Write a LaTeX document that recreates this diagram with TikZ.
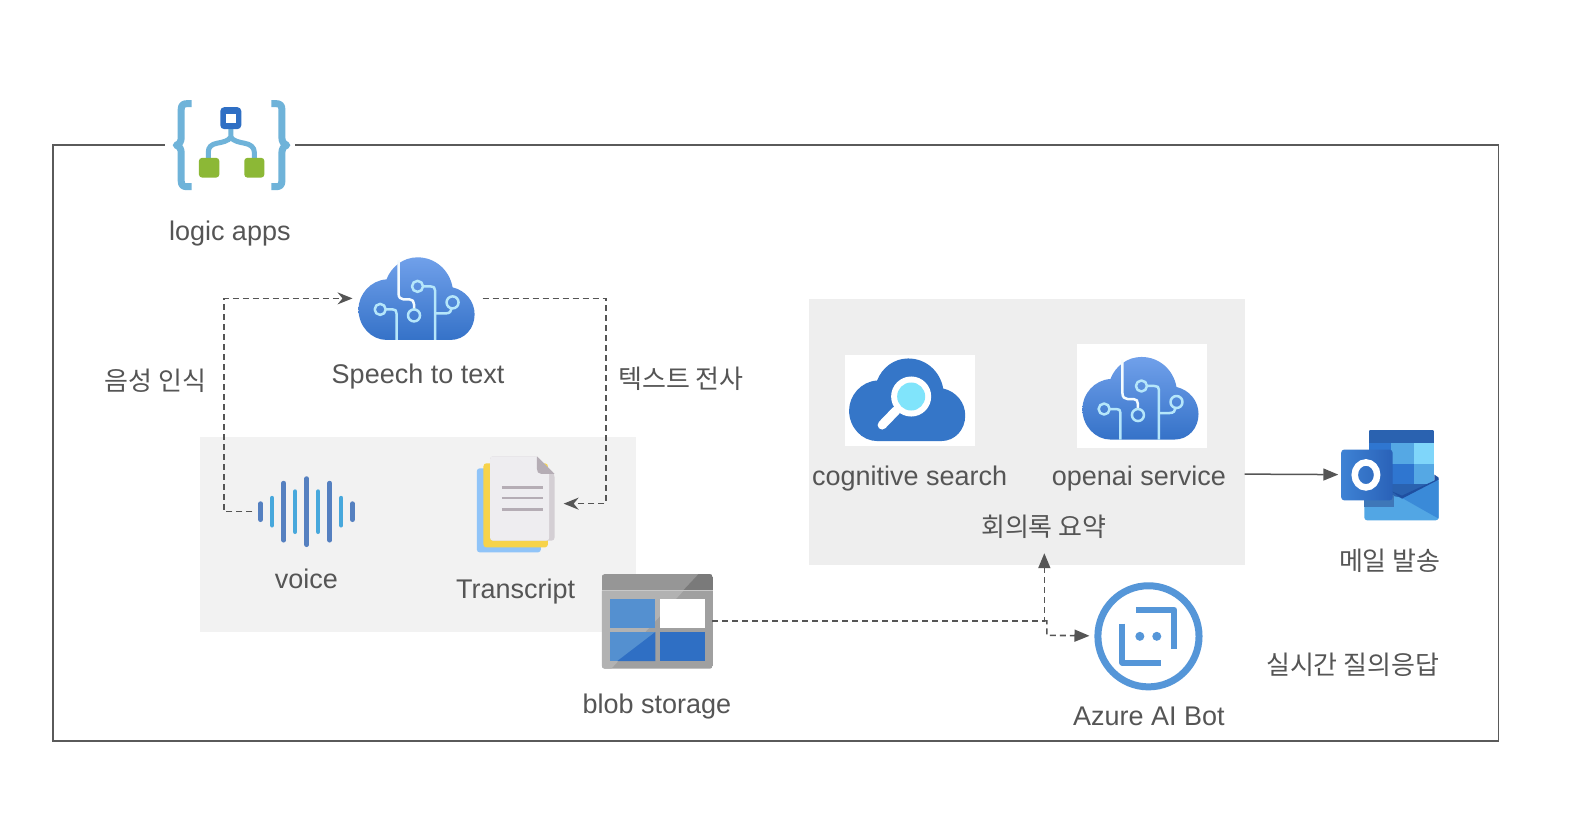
\documentclass[tikz,border=0pt]{standalone}
\usepackage{fontspec}
\setmainfont{Liberation Sans}
\newfontfamily\kr{Noto Sans CJK KR}
\usetikzlibrary{arrows.meta,calc}
\definecolor{ink}{HTML}{555555}
\definecolor{frameink}{HTML}{5A5A5A}
\definecolor{regionA}{HTML}{F2F2F2}
\definecolor{regionB}{HTML}{EEEEEE}
\definecolor{brace}{HTML}{6FB3D9}
\definecolor{azure}{HTML}{2F6FC4}
\definecolor{leaf}{HTML}{8CB836}
\definecolor{circuit}{HTML}{B5E6FA}
\definecolor{cloudtop}{HTML}{70A0EA}
\definecolor{cloudbot}{HTML}{3572C8}
\definecolor{barA}{HTML}{5580C0}
\definecolor{barB}{HTML}{47A8DC}
\definecolor{docline}{HTML}{B5ADB5}
\definecolor{botblue}{HTML}{5596D8}
\definecolor{sheetblue}{HTML}{90C4F8}
\definecolor{sheetyellow}{HTML}{F7D34A}
\definecolor{docedge}{HTML}{D4CFD4}
\definecolor{docface}{HTML}{EEEDF0}
\definecolor{blobbody}{HTML}{A0A0A0}
\definecolor{blobshine}{HTML}{B2B2B2}
\definecolor{blobhead}{HTML}{969696}
\definecolor{blobheaddark}{HTML}{7A7A7A}
\definecolor{blobcell}{HTML}{5490D0}
\definecolor{blobrule}{HTML}{C8C8C8}
\definecolor{searchblue}{HTML}{3576C8}
\definecolor{searchglass}{HTML}{80E4FB}
\definecolor{olA}{HTML}{2A62B0}
\definecolor{olB}{HTML}{2F76D0}
\definecolor{olC}{HTML}{55A8E4}
\definecolor{olD}{HTML}{7FD6FA}
\definecolor{olFlap}{HTML}{1F4FA0}
\definecolor{olEnv}{HTML}{52A6E4}
\definecolor{olEnvDark}{HTML}{3A8AD8}
\definecolor{olShadow}{HTML}{3E77B8}
\definecolor{olSqL}{HTML}{3E82D4}
\definecolor{olSqR}{HTML}{2A62B8}
\tikzset{
  lbl/.style={text=ink,font=\fontsize{27}{30}\selectfont,inner sep=0pt},
  krlbl/.style={text=ink,font=\kr\fontsize{26}{30}\selectfont,inner sep=0pt},
  iconbox/.style={inner sep=0pt,outer sep=0pt},
  regionbox/.style={inner sep=0pt,outer sep=0pt},
  dashlink/.style={draw=ink,line width=1.6pt,dash pattern=on 6pt off 4pt},
  tipopen/.style={-{Stealth[length=15pt,width=12pt,inset=5pt]}},
  tipfill/.style={-{Triangle[length=15pt,width=12pt]}},
  circ/.style={draw=circuit,line width=2.5pt,line join=round},
  bar/.style={line width=4.7pt,line cap=round},
  bracepath/.style={draw=brace,line width=7pt,line join=round},
  botline/.style={draw=botblue,line width=6pt,line join=round}
}
\newcommand{\cloudshape}{(28,82.5) -- (92,82.5) .. controls (106,82.5) and (116,71) .. (116,57) .. controls (116,44) and (107,33) .. (94,30) .. controls (91,13) and (77,0) .. (59,0) .. controls (45,0) and (33,9) .. (28,22) .. controls (12,23) and (0,37) .. (0,52) .. controls (0,69) and (13,82.5) .. (28,82.5) -- cycle}
\newcommand{\aicloud}[2]{%
  \begin{scope}[shift={(#1,#2)}]
    \shade[top color=cloudtop,bottom color=cloudbot] \cloudshape;
    \draw[circ,draw=white!85!circuit] (40,3) -- (40,36) .. controls (40,40) and (42,42) .. (45,42) -- (51,42) .. controls (54,42) and (55.5,44) .. (55.5,47) -- (55.5,52);
    \draw[circ] (55.5,58) circle (6);
    \draw[circ] (21.7,52) circle (5.5);
    \draw[circ] (27.2,52) -- (34,52) .. controls (37,52) and (38,53) .. (38,56) -- (38,82.5);
    \draw[circ] (59,29) circle (5.5);
    \draw[circ] (64.5,29) -- (72,29) .. controls (75,29) and (76.5,30) .. (76.5,33) -- (76.5,82.5);
    \draw[circ] (94,45) circle (6);
    \draw[circ] (76.5,56) -- (87,56) .. controls (91,56) and (93,54) .. (93,51);
  \end{scope}}
\begin{document}
\begin{tikzpicture}[x=1.0013pt,y=-1.0013pt]
\useasboundingbox (0,0) rectangle (1568,819);
\fill[white] (0,0) rectangle (1568,819);

% frame
\draw[frameink,line width=1.5pt] (53,144.7) rectangle (1496.7,740);

% regions
\node[regionbox,fill=regionA,minimum width=435.5,minimum height=195] (regionL) at (417.5,534.2) {};
\node[regionbox,fill=regionB,minimum width=435.5,minimum height=266] (regionR) at (1025.5,431) {};

% logic apps icon
\node[iconbox,fill=white,minimum width=130,minimum height=94] (logic) at (230,145) {};
\draw[bracepath] (191.5,103.5) -- (187,103.5) .. controls (183,103.5) and (181,105) .. (181,109) -- (181,137) .. controls (181,141) and (179.5,144) .. (176,145) .. controls (179.5,146) and (181,149) .. (181,153) -- (181,181) .. controls (181,185) and (183,186.5) .. (187,186.5) -- (191.5,186.5);
\draw[bracepath] (271,103.5) -- (275.5,103.5) .. controls (279.5,103.5) and (281.5,105) .. (281.5,109) -- (281.5,137) .. controls (281.5,141) and (283,144) .. (286.5,145) .. controls (283,146) and (281.5,149) .. (281.5,153) -- (281.5,181) .. controls (281.5,185) and (279.5,186.5) .. (275.5,186.5) -- (271,186.5);
\draw[brace,line width=5pt] (230.5,128) -- (230.5,137) .. controls (228,141) and (222,142) .. (217,143) .. controls (211,144) and (208,147) .. (208,152) -- (208,159);
\draw[brace,line width=5pt] (230.5,137) .. controls (233,141) and (239,142) .. (244,143) .. controls (250,144) and (254,147) .. (254,152) -- (254,159);
\fill[azure,rounded corners=4pt] (220,107) rectangle (241,129);
\fill[white] (226,114) rectangle (235.3,123.3);
\fill[leaf,rounded corners=3pt] (198.7,157.7) rectangle (219,177.3);
\fill[leaf,rounded corners=3pt] (244,157.7) rectangle (264,177.3);

% speech cloud
\node[iconbox,minimum width=130,minimum height=83] (speech) at (417,298) {};
\aicloud{358}{257}

% voice
\node[iconbox,minimum width=108,minimum height=71] (voice) at (306,511) {};
\draw[bar,barA] (260.3,503) -- (260.3,519);
\draw[bar,barB] (271.7,497.5) -- (271.7,524.5);
\draw[bar,barA] (283.3,482.5) -- (283.3,539.5);
\draw[bar,barB] (294.7,491) -- (294.7,531);
\draw[bar,barA] (306.3,478) -- (306.3,544);
\draw[bar,barB] (317.7,491) -- (317.7,531);
\draw[bar,barA] (329.3,482.5) -- (329.3,539.5);
\draw[bar,barB] (340.7,497.5) -- (340.7,524.5);
\draw[bar,barA] (352,503) -- (352,519);

% transcript
\node[iconbox,minimum width=95,minimum height=96] (transcript) at (515.5,503) {};
\fill[sheetblue,rounded corners=3pt] (476.2,467.7) rectangle (540.2,551.7);
\fill[sheetyellow,rounded corners=3pt] (482.8,462.7) rectangle (547.2,546.7);
\fill[docedge,rounded corners=3pt] (489.5,455.7) -- (536.2,455.7) -- (553.8,473.3) -- (553.8,540) -- (489.5,540) -- cycle;
\fill[docface,rounded corners=3pt] (489.5,455.7) -- (536.2,455.7) -- (548.5,470) -- (548.5,540) -- (489.5,540) -- cycle;
\fill[docline] (536.2,455.7) -- (553.8,473.3) -- (540.5,473.3) .. controls (537.5,473.3) and (536.2,471) .. (536.2,468) -- cycle;
\draw[docline,line width=2.3pt] (501.2,487) -- (542.2,487) (501.2,497.7) -- (542.2,497.7) (501.2,508.7) -- (542.2,508.7);

% blob storage
\node[iconbox,minimum width=111,minimum height=95] (blob) at (656,620) {};
\begin{scope}[shift={(-0.5,-0.5)}]
  \clip[rounded corners=3pt] (601.5,574) rectangle (712.5,668.3);
  \fill[blobbody] (601.5,574) rectangle (712.5,668.3);
  \fill[blobshine] (601.5,590.7) -- (683,590.7) -- (611,668.3) -- (601.5,668.3) -- cycle;
  \fill[blobhead] (601.5,574) rectangle (712.5,590);
  \fill[blobheaddark] (698,574) -- (712.5,574) -- (712.5,590) -- (683,590) -- cycle;
  \draw[blobrule,line width=1pt] (601.5,590.5) -- (712.5,590.5);
  \fill[blobcell] (610,598.3) rectangle (655,627.3);
  \fill[white] (659.5,598.3) rectangle (704.5,627.3);
  \fill[blobcell] (610,631.7) rectangle (655,660.7);
  \fill[azure] (655,631.7) -- (655,660.7) -- (617,660.7) -- cycle;
  \fill[azure] (659.5,631.7) rectangle (704.5,660.7);
\end{scope}

% cognitive search
\begin{scope}[shift={(-1,-1)}]
\node[iconbox,fill=white,minimum width=130,minimum height=91] (search) at (910,400.5) {};
\begin{scope}[shift={(849,359)}]
  \fill[searchblue] \cloudshape;
\end{scope}
\draw[white,line width=9pt,line cap=round] (896,411) -- (882,425.5);
\fill[white] (911,397) circle (20);
\fill[searchglass] (911,397) circle (14);
\end{scope}

% openai service
\node[iconbox,fill=white,minimum width=130,minimum height=104] (openai) at (1140.5,395.5) {};
\aicloud{1081}{356.5}

% outlook
\begin{scope}[shift={(-1.5,-1)}]
\node[iconbox,minimum width=100,minimum height=91] (outlook) at (1388,475) {};
\begin{scope}
  \clip[rounded corners=3pt] (1368.3,430) rectangle (1434,500);
  \fill[olA] (1368.3,430) rectangle (1434,443.3);
  \fill[olB] (1368.3,443.3) rectangle (1391,464.3);
  \fill[olC] (1391,443.3) rectangle (1413.3,464.3);
  \fill[olD] (1413.3,443.3) rectangle (1434,464.3);
  \fill[olA] (1368.3,464.3) rectangle (1391,484);
  \fill[olB] (1391,464.3) rectangle (1413.3,484);
  \fill[olC] (1413.3,464.3) rectangle (1434,484);
  \fill[olA] (1368.3,484) rectangle (1434,500);
\end{scope}
\fill[olEnv,rounded corners=3pt] (1364,490) -- (1401.7,498.3) -- (1438.3,479) -- (1438.3,520.7) -- (1364,520.7) -- cycle;
\fill[olEnvDark] (1401.7,498.3) -- (1438.3,479) -- (1438.3,519) -- cycle;
\fill[olFlap] (1434,475) -- (1438.3,478) -- (1438.3,480) -- (1401.7,499) -- (1391,491.5) -- (1401.7,496) -- (1434,481) -- cycle;
\fill[olShadow] (1364,495) rectangle (1394,507);
\shade[left color=olSqL,right color=olSqR,rounded corners=3pt] (1341,450) rectangle (1392.3,500.7);
\draw[white,line width=6.5pt] (1365.7,475.3) ellipse (11.2 and 12.5);
\end{scope}

% bot
\begin{scope}[shift={(-2,-0.5)}]
\node[iconbox,minimum width=118,minimum height=108] (bot) at (1149,635.5) {};
\draw[botblue,line width=7pt] (1149,636) circle (50.5);
\draw[botline] (1136.4,609.3) -- (1174.6,609.3) -- (1174.6,648.3);
\draw[botline] (1123,623.3) -- (1123,662.3) -- (1161.3,662.3);
\fill[botblue] (1140.4,636) circle (4.5);
\fill[botblue] (1157.3,636) circle (4.5);
\end{scope}

% labels
\node[lbl] (logiclabel) at (229.5,233) {logic apps};
\node[lbl] (speechlabel) at (417.5,376.5) {Speech to text};
\node[krlbl] (voicecap) at (155,380) {음성 인식};
\node[krlbl] (textcap) at (680,378) {텍스트 전사};
\node[lbl] (voicelabel) at (306,578.5) {voice};
\node[lbl] (transcriptlabel) at (515,591) {Transcript};
\node[lbl] (bloblabel) at (656,705.5) {blob storage};
\node[lbl] (searchlabel) at (908.5,477.5) {cognitive search};
\node[lbl] (openailabel) at (1137.5,477.5) {openai service};
\node[krlbl,minimum height=56] (summary) at (1042.5,526) {회의록 요약};
\node[krlbl] (maillabel) at (1388,560) {메일 발송};
\node[krlbl] (qacap) at (1351,664) {실시간 질의응답};
\node[lbl] (botlabel) at (1147.5,715) {Azure AI Bot};

% connectors
\coordinate (voicecorner) at (224,511);
\coordinate (speechcorner) at (224,298);
\coordinate (outa) at (605,298);
\coordinate (outb) at (605,503);
\coordinate (junction) at (1043,620);
\coordinate (arrivaltip) at (1043,552.5);
\coordinate (botbend) at (1045.5,634.5);
\coordinate (regionout) at (1243,473.5);
\draw[dashlink,tipopen] (voice.west) -- (voicecorner) -- (speechcorner) -- (speech.west);
\draw[dashlink,tipopen] (speech.east) -- (outa) -- (outb) -- (transcript.east);
\draw[dashlink,tipfill] (blob.east) -- (junction) -- (arrivaltip);
\draw[dashlink,tipfill] (junction) -- (junction -| botbend) -- (botbend) -- (bot.west);
\draw[draw=ink,line width=1.5pt,tipfill] (regionout) -- (outlook.west);
\end{tikzpicture}
\end{document}
